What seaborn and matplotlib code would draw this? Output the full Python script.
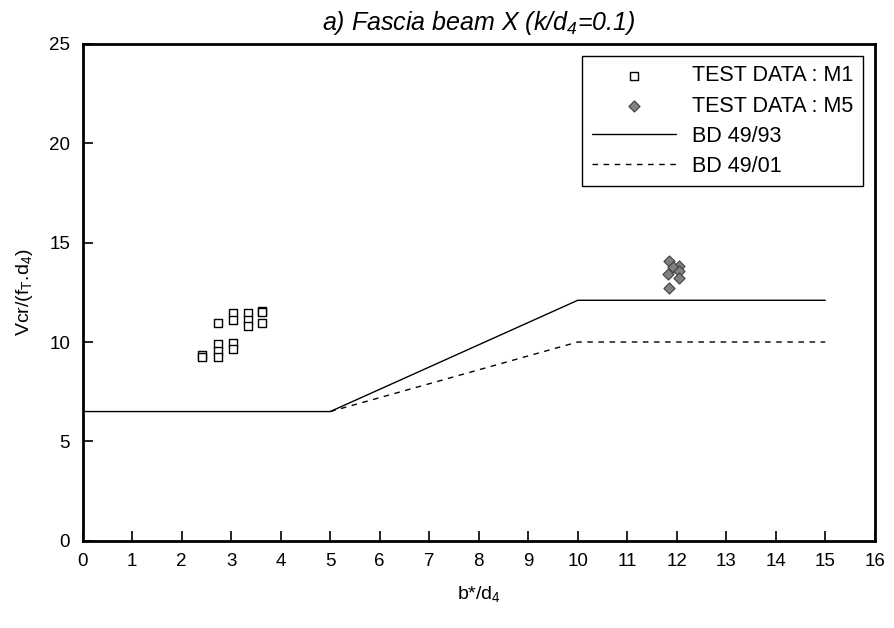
import matplotlib
matplotlib.use("Agg")
import matplotlib.pyplot as plt
import seaborn as sns
import pandas as pd

# Data
m1_x = [2.42, 2.42, 2.73, 2.73, 2.73, 2.73, 3.03, 3.03, 3.03, 3.03, 3.33, 3.33, 3.33, 3.63, 3.63, 3.63]
m1_y = [9.36, 9.23, 10.94, 9.90, 9.56, 9.23, 11.46, 11.13, 9.95, 9.65, 11.46, 11.13, 10.82, 11.57, 11.50, 10.96]
m5_x = [11.84, 12.04, 11.93, 11.83, 12.04, 12.04, 11.84]
m5_y = [14.06, 13.85, 13.77, 13.40, 13.55, 13.20, 12.71]
bd93_x = [0, 5, 10, 15]
bd93_y = [6.5, 6.5, 12.1, 12.1]
bd01_x = [5, 10, 15]
bd01_y = [6.5, 10.0, 10.0]
x_ticks = list(range(0, 17))
y_ticks = [0, 5, 10, 15, 20, 25]

sns.set_theme(style="ticks")
plt.rcParams['font.family'] = ['Liberation Sans', 'DejaVu Sans']
plt.rcParams['mathtext.default'] = 'regular'
plt.rcParams['text.color'] = 'black'
plt.rcParams['axes.labelcolor'] = 'black'
plt.rcParams['xtick.color'] = 'black'
plt.rcParams['ytick.color'] = 'black'
plt.rcParams['xtick.direction'] = 'in'
plt.rcParams['ytick.direction'] = 'in'
plt.rcParams['xtick.major.size'] = 7
plt.rcParams['ytick.major.size'] = 7
plt.rcParams['xtick.major.width'] = 1.2
plt.rcParams['ytick.major.width'] = 1.2

fig = plt.figure(figsize=(8.94, 6.28), dpi=100)
ax = fig.add_axes([0.0925, 0.139, 0.886, 0.791])

df1 = pd.DataFrame({"x": m1_x, "y": m1_y})
df5 = pd.DataFrame({"x": m5_x, "y": m5_y})
sns.scatterplot(data=df1, x="x", y="y", ax=ax, marker="s", s=40, facecolor="white",
                edgecolor="black", linewidth=1.0, label="TEST DATA : M1", zorder=3)
sns.scatterplot(data=df5, x="x", y="y", ax=ax, marker="D", s=32, color="#808080",
                edgecolor="#404040", linewidth=0.8, label="TEST DATA : M5", zorder=3)
sns.lineplot(x=bd93_x, y=bd93_y, ax=ax, color="black", linewidth=1.0, label="BD 49/93")
sns.lineplot(x=bd01_x, y=bd01_y, ax=ax, color="black", linewidth=1.0, linestyle=(0, (4, 4)), label="BD 49/01")

ax.set_xlim(0, 16)
ax.set_ylim(0, 25)
ax.set_xticks(x_ticks)
ax.set_yticks(y_ticks)
ax.tick_params(which="major", direction="in", length=7, width=1.2, labelsize=13.5, colors="black",
               pad=9, left=True, bottom=True, top=False, right=False)
for sp in ax.spines.values():
    sp.set_visible(True)
    sp.set_linewidth(2)
    sp.set_color("black")
    sp.set_zorder(5)

ax.set_xlabel("b*/d$_4$", fontsize=14, labelpad=10)
ax.set_ylabel("Vcr/(f$_T$.d$_4$)", fontsize=14, labelpad=10)
ax.set_title("a) Fascia beam X (k/d$_4$=0.1)", fontsize=18, style="italic", pad=10)

leg = ax.legend(loc="upper right", fontsize=15.5, frameon=True, fancybox=False,
                edgecolor="black", framealpha=1, borderpad=0.45, handlelength=3.9,
                handletextpad=0.75, labelspacing=0.42, borderaxespad=0.55)
leg.get_frame().set_linewidth(1.0)

fig.savefig("out.png", dpi=100)
